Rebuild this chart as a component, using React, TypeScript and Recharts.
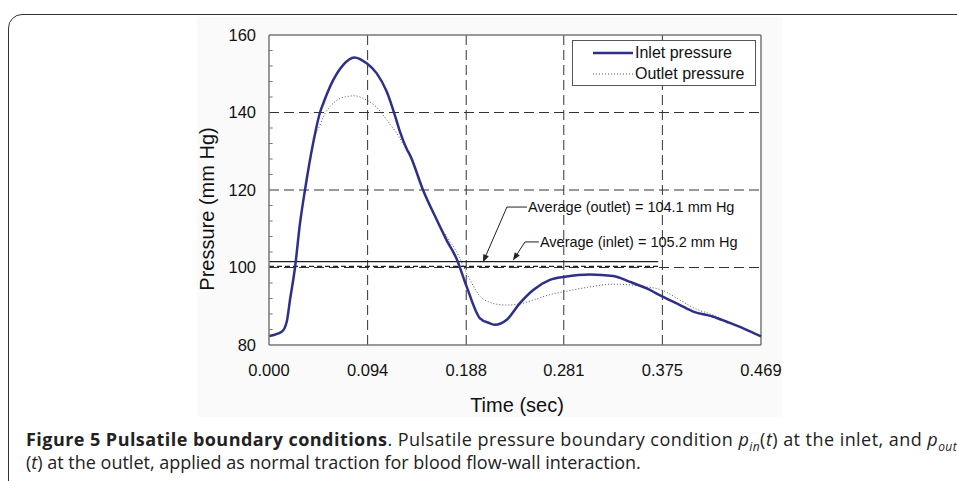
import React from "react";
import {
  LineChart,
  Line,
  XAxis,
  YAxis,
  CartesianGrid,
  ReferenceLine,
  Legend,
} from "recharts";

// time (sec)
const TIME = [
  0, 0.0121, 0.0169, 0.02, 0.0248, 0.0296, 0.0343, 0.042, 0.0486, 0.0518,
  0.0613, 0.0708, 0.0813, 0.0931, 0.1027, 0.1122, 0.1217, 0.1249, 0.1313,
  0.1344, 0.1471, 0.1599, 0.1694, 0.1789, 0.1885, 0.2011, 0.2107, 0.2154,
  0.2266, 0.2392, 0.2519, 0.2678, 0.2821, 0.306, 0.3282, 0.3441, 0.36, 0.3743,
  0.3918, 0.4045, 0.4236, 0.4363, 0.4521, 0.469,
];

// mm Hg
const INLET = [
  82.3, 83.4, 86.0, 91.6, 100, 111.5, 120, 132, 140, 142.4, 148.4, 152.3,
  154.2, 152.7, 150.1, 145.4, 137.8, 135.0, 130.6, 129.0, 119.8, 112.3, 107,
  102.2, 95.0, 86.9, 85.6, 85.2, 86.5, 90.8, 94.2, 96.8, 97.6, 98.2, 97.8,
  96.3, 94.6, 92.6, 90.3, 88.6, 87.3, 86.0, 84.3, 82.2,
];

const OUTLET = [
  82.3, 83.4, 86.0, 91.6, 100, 111.5, 120, 132, 136.8, 138.9, 142.4, 143.9,
  144.3, 143.2, 141.3, 138.1, 134.6, 133.3, 130.3, 129.0, 119.8, 112.3, 108,
  104, 98.5, 92.6, 91.0, 90.6, 90.3, 90.6, 91.6, 93.0, 93.8, 95.0, 95.7, 95.5,
  95.0, 94.2, 91.6, 89.6, 87.7, 86.2, 84.3, 82.2,
];

const TIME_TICKS = [0, 0.094, 0.188, 0.281, 0.375, 0.469];
const PRESSURE_TICKS = [80, 100, 120, 140, 160];
const MINOR_TICKS = [
  84, 88, 92, 96, 104, 108, 112, 116, 124, 128, 132, 136, 144, 148, 152, 156,
];

const AVG_OUTLET_LINE = 101.5;
const AVG_INLET_LINE = 100.3;
const AVG_END = 0.371;

const data = TIME.map((t, i) => ({ t, inlet: INLET[i], outlet: OUTLET[i] }));

const FONT = '"Liberation Sans", Arial, sans-serif';
const NAVY = "#2e3088";

const LeaderText = (text: string) => (props: any) => {
  const { x1, y1, x2, y2 } = props;
  return (
    <g>
      <line x1={x1} y1={y1} x2={x2} y2={y2} stroke="#222" strokeWidth={1} />
      <text
        x={x1 + 1}
        y={y1}
        dominantBaseline="central"
        fontFamily={FONT}
        fontSize={14.5}
        fill="#111"
      >
        {text}
      </text>
    </g>
  );
};

const Arrow = (props: any) => {
  const { x1, y1, x2, y2 } = props;
  const a = Math.atan2(y2 - y1, x2 - x1);
  const len = 8;
  const w = 3;
  const bx = x2 - len * Math.cos(a);
  const by = y2 - len * Math.sin(a);
  const px = -Math.sin(a) * w;
  const py = Math.cos(a) * w;
  return (
    <g>
      <line x1={x1} y1={y1} x2={bx} y2={by} stroke="#222" strokeWidth={1} />
      <polygon
        points={`${x2},${y2} ${bx + px},${by + py} ${bx - px},${by - py}`}
        fill="#222"
      />
    </g>
  );
};

const LegendBox = () => (
  <div
    style={{
      border: "1px solid #555",
      background: "#fff",
      fontFamily: FONT,
      fontSize: 16,
      color: "#111",
      padding: "1px 8px 1px 20px",
      lineHeight: "21px",
    }}
  >
    <div style={{ display: "flex", alignItems: "center" }}>
      <svg width={40} height={10}>
        <line x1={0} y1={5} x2={40} y2={5} stroke={NAVY} strokeWidth={2.5} />
      </svg>
      <span style={{ marginLeft: 2 }}>Inlet pressure</span>
    </div>
    <div style={{ display: "flex", alignItems: "center" }}>
      <svg width={40} height={10}>
        <line
          x1={0}
          y1={5}
          x2={40}
          y2={5}
          stroke="#555"
          strokeWidth={1}
          strokeDasharray="1 2"
        />
      </svg>
      <span style={{ marginLeft: 2 }}>Outlet pressure</span>
    </div>
  </div>
);

export default function App() {
  return (
    <div
      style={{
        position: "absolute",
        left: 0,
        top: 0,
        width: 957,
        height: 481,
        overflow: "hidden",
        background: "#fff",
      }}
    >
      <div
        style={{
          position: "absolute",
          left: 8,
          top: 14,
          width: 1000,
          height: 520,
          border: "1.5px solid #333",
          borderRadius: 14,
        }}
      />
      <div
        style={{
          position: "absolute",
          left: 197,
          top: 17,
          width: 585,
          height: 400,
          background: "#fafafa",
        }}
      />
      <div style={{ position: "absolute", left: 200, top: 20 }}>
        <LineChart
          width={610}
          height={395}
          data={data}
          margin={{ top: 15, right: 49, left: 0, bottom: 0 }}
        >
          <CartesianGrid
            fill="#fff"
            stroke="#333"
            strokeDasharray="10 5"
            horizontalValues={[100, 120, 140]}
            verticalValues={[0.094, 0.188, 0.281, 0.375]}
          />
          <XAxis
            type="number"
            dataKey="t"
            domain={[0, 0.469]}
            ticks={TIME_TICKS}
            tickFormatter={(v: number) => v.toFixed(3)}
            height={70}
            tickLine={false}
            tickSize={0}
            tickMargin={19}
            axisLine={{ stroke: "#777", strokeWidth: 1.5 }}
            tick={{ fontFamily: FONT, fontSize: 16.5, fill: "#111" }}
            interval={0}
          />
          <YAxis
            type="number"
            domain={[80, 160]}
            ticks={PRESSURE_TICKS}
            width={69}
            tickLine={false}
            tickSize={0}
            tickMargin={13}
            axisLine={{ stroke: "#777", strokeWidth: 1.5 }}
            tick={{ fontFamily: FONT, fontSize: 16.5, fill: "#111" }}
            interval={0}
          />
          <ReferenceLine y={160} stroke="#777" strokeWidth={1.5} />
          <ReferenceLine x={0.469} stroke="#777" strokeWidth={1.5} />
          {MINOR_TICKS.map((v) => (
            <ReferenceLine
              key={v}
              segment={[
                { x: 0, y: v },
                { x: 0.0035, y: v },
              ]}
              stroke="#777"
              strokeWidth={1}
            />
          ))}
          <ReferenceLine
            segment={[
              { x: 0, y: AVG_OUTLET_LINE },
              { x: AVG_END, y: AVG_OUTLET_LINE },
            ]}
            stroke="#222"
            strokeWidth={1.3}
          />
          <ReferenceLine
            segment={[
              { x: 0, y: AVG_INLET_LINE },
              { x: AVG_END, y: AVG_INLET_LINE },
            ]}
            stroke="#222"
            strokeWidth={1.2}
            strokeDasharray="5 3"
          />
          <ReferenceLine
            segment={[
              { x: 0.2459, y: 115.6 },
              { x: 0.2268, y: 115.6 },
            ]}
            shape={LeaderText("Average (outlet) = 104.1 mm Hg")}
          />
          <ReferenceLine
            segment={[
              { x: 0.2268, y: 115.6 },
              { x: 0.2039, y: 101.3 },
            ]}
            shape={Arrow}
          />
          <ReferenceLine
            segment={[
              { x: 0.2573, y: 106.6 },
              { x: 0.244, y: 106.6 },
            ]}
            shape={LeaderText("Average (inlet) = 105.2 mm Hg")}
          />
          <ReferenceLine
            segment={[
              { x: 0.244, y: 106.6 },
              { x: 0.2325, y: 101.8 },
            ]}
            shape={Arrow}
          />
          <Line
            type="monotone"
            dataKey="outlet"
            name="Outlet pressure"
            stroke="#555"
            strokeWidth={1}
            strokeDasharray="1 2"
            dot={false}
            isAnimationActive={false}
          />
          <Line
            type="monotone"
            dataKey="inlet"
            name="Inlet pressure"
            stroke={NAVY}
            strokeWidth={2.5}
            dot={false}
            isAnimationActive={false}
          />
          <Legend
            layout="vertical"
            align="center"
            verticalAlign="middle"
            content={<LegendBox />}
            wrapperStyle={{ left: 372, top: 20, width: 184, height: 44 }}
          />
        </LineChart>
      </div>
      <div
        style={{
          position: "absolute",
          left: 207,
          top: 209,
          transform: "translate(-50%, -50%) rotate(-90deg)",
          whiteSpace: "nowrap",
          fontFamily: FONT,
          fontSize: 20,
          color: "#111",
        }}
      >
        Pressure (mm Hg)
      </div>
      <div
        style={{
          position: "absolute",
          left: 517,
          top: 405,
          transform: "translate(-50%, -50%)",
          whiteSpace: "nowrap",
          fontFamily: FONT,
          fontSize: 20,
          color: "#111",
        }}
      >
        Time (sec)
      </div>
      <div
        style={{
          position: "absolute",
          left: 26,
          top: 427.5,
          fontFamily: '"Open Sans", sans-serif',
          fontSize: 18,
          lineHeight: "23px",
          color: "#222",
          whiteSpace: "nowrap",
        }}
      >
        <div style={{ letterSpacing: 0.45 }}>
          <b>Figure 5 Pulsatile boundary conditions</b>. Pulsatile pressure
          boundary condition <i>p</i>
          <sub style={{ fontStyle: "italic", fontSize: 12, lineHeight: 0 }}>
            in
          </sub>
          (<i>t</i>) at the inlet, and <i>p</i>
          <sub style={{ fontStyle: "italic", fontSize: 12, lineHeight: 0 }}>
            out
          </sub>
        </div>
        <div>
          (<i>t</i>) at the outlet, applied as normal traction for blood
          flow-wall interaction.
        </div>
      </div>
    </div>
  );
}
